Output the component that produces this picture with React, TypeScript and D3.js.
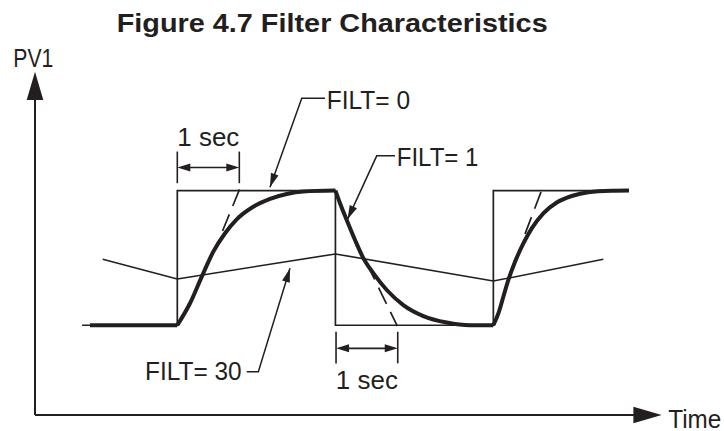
import React from 'react';
import * as d3 from 'd3';

type Pt = [number, number];

// ---- Data (time in seconds, PV in arbitrary units) ----
const TITLE = 'Figure 4.7 Filter Characteristics';
const Y_LABEL = 'PV1';
const X_LABEL = 'Time';

// FILT = 0 : the unfiltered square-wave input
const filt0: Pt[] = [
  [0.76, 40], [2.295, 40], [2.295, 100], [4.845, 100],
  [4.845, 40], [7.392, 40], [7.392, 100], [9.58, 100],
];

// FILT = 1 : filtered response (thick curve), split into segments
const filt1Base: Pt[] = [[0.887, 40], [2.295, 40]];
const filt1Rise1: Pt[] = [
  [2.295, 40], [2.5, 49.8], [2.69, 61.7], [2.876, 72.8], [3.065, 81.0],
  [3.253, 87.2], [3.52, 92.8], [3.79, 96.3], [4.06, 98.5], [4.33, 99.6], [4.845, 100],
];
const filt1Fall: Pt[] = [
  [4.845, 100], [4.919, 94.4], [5.027, 86.9], [5.161, 78.0], [5.295, 69.9],
  [5.456, 63.2], [5.673, 55.7], [5.94, 49.0], [6.263, 44.1], [6.64, 41.2],
  [7.016, 40.0], [7.392, 40],
];
const filt1Rise2: Pt[] = [
  [7.392, 40], [7.473, 45.3], [7.553, 52.7], [7.634, 60.2], [7.742, 68.3],
  [7.876, 76.5], [8.011, 83.2], [8.198, 89.9], [8.415, 94.7], [8.656, 97.6],
  [8.924, 99.3], [9.3, 99.9], [9.58, 100],
];

// FILT = 30 : heavily filtered response
const filt30: Pt[] = [
  [1.092, 69.4], [2.295, 60.6], [4.845, 71.8], [7.392, 59.7], [9.166, 69.4],
];

// dashed tangent lines (1 second time constant)
const tangent1: Pt[] = [[3.024, 82.0], [3.314, 101.6]];
const tangent2: Pt[] = [[5.35, 67.6], [5.844, 39.6]];
const tangent3: Pt[] = [[7.903, 80.7], [8.185, 101.2]];

// annotations (data units)
const labelFilt0 = 'FILT= 0';
const labelFilt1 = 'FILT= 1';
const labelFilt30 = 'FILT= 30';
const labelSec = '1 sec';
const leaderFilt0: Pt[] = [[4.677, 141.2], [4.302, 141.2], [3.79, 101.5]];
const leaderFilt1: Pt[] = [[5.806, 115.5], [5.511, 115.5], [5.04, 87.2]];
const leaderFilt30: Pt[] = [[3.415, 19.3], [3.602, 19.3], [4.113, 65.4]];
const secUpper = { t0: 2.295, t1: 3.295, pvTop: 117.4, pvBot: 103.3, pvArrow: 110.3, pvText: 119.9 };
const secLower = { t0: 4.855, t1: 5.85, pvTop: 37.1, pvBot: 23.0, pvArrow: 29.7, pvText: 11.5 };

const INK = '#231f20';
const FONT = '"Liberation Sans", Arial, Helvetica, sans-serif';
const FS = 25;

function head(tip: Pt, from: Pt, L: number, w: number): string {
  const dx = tip[0] - from[0];
  const dy = tip[1] - from[1];
  const len = Math.hypot(dx, dy) || 1;
  const ux = dx / len, uy = dy / len;
  const bx = tip[0] - ux * L, by = tip[1] - uy * L;
  const px = -uy * w, py = ux * w;
  return `${tip[0]},${tip[1]} ${bx + px},${by + py} ${bx - px},${by - py}`;
}

export default function App() {
  const W = 724, H = 431;
  const x = d3.scaleLinear().domain([0, 10.107]).range([35, 661.7]);
  const y = d3.scaleLinear().domain([0, 153]).range([415, 71.7]);
  const P = (d: Pt): Pt => [x(d[0]), y(d[1])];

  const lin = d3.line<Pt>().x(d => x(d[0])).y(d => y(d[1]));
  const smooth = d3.line<Pt>().x(d => x(d[0])).y(d => y(d[1])).curve(d3.curveMonotoneX);

  const leader = (pts: Pt[], key: string) => {
    const px = pts.map(P);
    const tip = px[px.length - 1];
    const prev = px[px.length - 2];
    return (
      <g key={key}>
        <path d={lin(pts) || ''} fill="none" stroke={INK} strokeWidth={1.5} />
        <polygon points={head(tip, prev, 14, 4)} fill={INK} />
      </g>
    );
  };

  const dim = (s: typeof secUpper, key: string) => {
    const x0 = x(s.t0), x1 = x(s.t1);
    const ya = y(s.pvArrow);
    return (
      <g key={key}>
        <line x1={x0} x2={x0} y1={y(s.pvTop)} y2={y(s.pvBot)} stroke={INK} strokeWidth={1.6} />
        <line x1={x1} x2={x1} y1={y(s.pvTop)} y2={y(s.pvBot)} stroke={INK} strokeWidth={1.6} />
        <line x1={x0 + 6} x2={x1 - 6} y1={ya} y2={ya} stroke={INK} strokeWidth={1.6} />
        <polygon points={head([x0, ya], [x1, ya], 13, 4)} fill={INK} />
        <polygon points={head([x1, ya], [x0, ya], 13, 4)} fill={INK} />
        <text x={(x0 + x1) / 2} y={y(s.pvText)} textAnchor="middle" fontSize={FS} fontFamily={FONT} fill={INK}
          textLength={62} lengthAdjust="spacingAndGlyphs">
          {labelSec}
        </text>
      </g>
    );
  };

  const ox = x(0), oy = y(0);
  const yTip = y(153), xTip = x(10.107);

  return (
    <div style={{ position: 'absolute', left: 0, top: 0 }}>
      <svg width={W} height={H} viewBox={`0 0 ${W} ${H}`} style={{ display: 'block', background: '#fff' }}>
        <text x={116.7} y={32} fontSize={26} fontWeight="bold" fontFamily={FONT} fill={INK}
          textLength={431} lengthAdjust="spacingAndGlyphs">{TITLE}</text>

        {/* axes */}
        <line x1={ox} y1={oy} x2={ox} y2={yTip + 20} stroke={INK} strokeWidth={2} />
        <polygon points={head([ox, yTip], [ox, oy], 28.3, 8.3)} fill={INK} />
        <line x1={ox} y1={oy} x2={xTip - 20} y2={oy} stroke={INK} strokeWidth={2} />
        <polygon points={head([xTip, oy], [ox, oy], 28.3, 8.3)} fill={INK} />
        <text x={13.3} y={66.7} fontSize={FS} fontFamily={FONT} fill={INK}
          textLength={40} lengthAdjust="spacingAndGlyphs">{Y_LABEL}</text>
        <text x={668.3} y={427.5} fontSize={FS} fontFamily={FONT} fill={INK}
          textLength={53} lengthAdjust="spacingAndGlyphs">{X_LABEL}</text>

        {/* FILT = 30 */}
        <path d={lin(filt30) || ''} fill="none" stroke={INK} strokeWidth={1.5} strokeLinejoin="round" />
        {/* FILT = 0 square wave */}
        <path d={lin(filt0) || ''} fill="none" stroke={INK} strokeWidth={1.7} />
        {/* tangents */}
        {[tangent1, tangent2, tangent3].map((t, i) => (
          <path key={i} d={lin(t) || ''} fill="none" stroke={INK} strokeWidth={1.7} strokeDasharray="18 9" />
        ))}
        {/* FILT = 1 thick curve */}
        <path d={lin(filt1Base) || ''} fill="none" stroke={INK} strokeWidth={4} />
        {[filt1Rise1, filt1Fall, filt1Rise2].map((s, i) => (
          <path key={'c' + i} d={smooth(s) || ''} fill="none" stroke={INK} strokeWidth={4} strokeLinejoin="round" />
        ))}

        {/* annotations */}
        {leader(leaderFilt0, 'l0')}
        {leader(leaderFilt1, 'l1')}
        {leader(leaderFilt30, 'l30')}
        <text x={x(4.705)} y={y(136.3)} fontSize={FS} fontFamily={FONT} fill={INK}
          textLength={83.3} lengthAdjust="spacingAndGlyphs">{labelFilt0}</text>
        <text x={x(5.834)} y={y(111.0)} fontSize={FS} fontFamily={FONT} fill={INK}
          textLength={81.6} lengthAdjust="spacingAndGlyphs">{labelFilt1}</text>
        <text x={x(3.334)} y={y(15.6)} textAnchor="end" fontSize={FS} fontFamily={FONT} fill={INK}
          textLength={96.7} lengthAdjust="spacingAndGlyphs">{labelFilt30}</text>
        {dim(secUpper, 'su')}
        {dim(secLower, 'sl')}
      </svg>
    </div>
  );
}
